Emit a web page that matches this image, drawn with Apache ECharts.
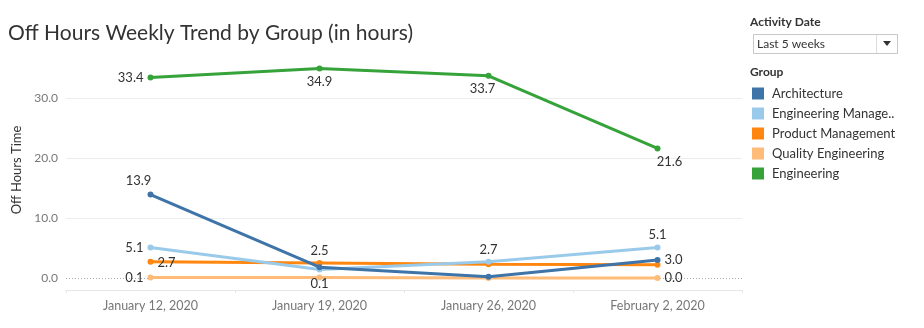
<!DOCTYPE html>
<html>
<head>
<meta charset="utf-8">
<script src="https://cdn.jsdelivr.net/npm/echarts@6/dist/echarts.min.js"></script>
<style>
  html, body { margin: 0; padding: 0; background: #fff; }
  #chart { width: 924px; height: 328px; }
</style>
</head>
<body>
<div id="chart"></div>
<script>
// Weekly off-hours time per group
const weeks = ['January 12, 2020', 'January 19, 2020', 'January 26, 2020', 'February 2, 2020'];
const groups = ['Architecture', 'Engineering Management', 'Product Management', 'Quality Engineering', 'Engineering'];
const architecture = [13.9, 1.8, 0.2, 3.0];
const engineeringManagement = [5.1, 1.4, 2.7, 5.1];
const productManagement = [2.7, 2.5, 2.3, 2.2];
const qualityEngineering = [0.1, 0.1, 0.0, 0.0];
const engineering = [33.4, 34.9, 33.7, 21.6];
const yTicks = [0, 10, 20, 30];

const values = [architecture, engineeringManagement, productManagement, qualityEngineering, engineering];
const colors = ['#3f74a9', '#9acaea', '#ff870f', '#ffbb78', '#35a33a'];

// Which points carry a value label, where it sits, and a small nudge
const labelPlacement = [
  { 0: ['top', -12, 0], 3: ['right', 0, 0] },
  { 0: ['left', 0, 0], 2: ['top', 0, 2], 3: ['top', 0, 1] },
  { 0: ['right', 0, 1], 1: ['top', 0, 1] },
  { 0: ['left', 0, 0], 1: ['bottom', 0, -7], 3: ['right', 0, 0] },
  { 0: ['left', 0, 0], 1: ['bottom', 0, 0], 2: ['bottom', -6, 0], 3: ['bottom', 12, 0] }
];

const chart = echarts.init(document.getElementById('chart'), null, { renderer: 'canvas' });
const font = 'Lato, "Open Sans", sans-serif';

const series = groups.map((name, gi) => ({
  name: name,
  type: 'line',
  data: values[gi].map((v, i) => {
    const pos = labelPlacement[gi][i];
    const item = { value: v };
    if (pos) {
      item.label = { show: true, position: pos[0], distance: 4, offset: [pos[1], pos[2]] };
    }
    return item;
  }),
  z: 10 - gi,
  symbol: 'circle',
  symbolSize: 6,
  lineStyle: { width: 3, color: colors[gi] },
  itemStyle: { color: colors[gi] },
  label: {
    show: false,
    color: '#333',
    fontSize: 13,
    fontFamily: font,
    formatter: p => p.value.toFixed(1)
  },
  emphasis: { disabled: true },
  animation: false
}));

// dotted zero reference line
series.push({
  type: 'line',
  data: [],
  markLine: {
    silent: true,
    symbol: 'none',
    label: { show: false },
    lineStyle: { color: '#aaa', type: [1, 2], width: 1 },
    data: [{ yAxis: 0 }]
  },
  z: 1
});

chart.setOption({
  animation: false,
  color: colors,
  textStyle: { fontFamily: font },
  grid: { left: 66, right: 182, top: 50, bottom: 38 },
  graphic: [
    { type: 'text', left: 8, top: 23, style: { text: 'Off Hours Weekly Trend by Group (in hours)', fill: '#333', font: '21px ' + font } },
    { type: 'text', left: 750, top: 16, style: { text: 'Activity Date', fill: '#333', font: 'bold 12px ' + font } },
    { type: 'rect', shape: { x: 753.5, y: 34.5, width: 144, height: 19 }, style: { fill: '#fff', stroke: '#c8c8c8', lineWidth: 1 } },
    { type: 'line', shape: { x1: 876.5, y1: 35, x2: 876.5, y2: 53 }, style: { stroke: '#dcdcdc', lineWidth: 1 } },
    { type: 'text', left: 757, top: 38, style: { text: 'Last 5 weeks', fill: '#333', font: '12px ' + font } },
    { type: 'polygon', shape: { points: [[883, 41], [891, 41], [887, 46]] }, style: { fill: '#333' } },
    { type: 'text', left: 750, top: 66, style: { text: 'Group', fill: '#333', font: 'bold 12px ' + font } }
  ],
  legend: {
    orient: 'vertical',
    left: 747,
    top: 82,
    itemWidth: 12,
    itemHeight: 12,
    itemGap: 7,
    icon: 'rect',
    data: groups,
    selectedMode: false,
    formatter: n => n.length > 20 ? n.slice(0, 18) + '..' : n,
    textStyle: { color: '#333', fontSize: 13, fontFamily: font, padding: [0, 0, 0, 3] }
  },
  xAxis: {
    type: 'category',
    data: weeks,
    boundaryGap: true,
    axisLine: { show: true, onZero: false, lineStyle: { color: '#e6e6e6' } },
    axisTick: { show: true, length: 3, lineStyle: { color: '#e6e6e6' } },
    axisLabel: { color: '#777', fontSize: 12.5, fontFamily: font, margin: 9 }
  },
  yAxis: {
    type: 'value',
    min: -2,
    max: 38,
    interval: 2,
    name: 'Off Hours Time',
    nameLocation: 'middle',
    nameGap: 41,
    nameTextStyle: { color: '#333', fontSize: 13, fontFamily: font },
    axisLine: { show: false },
    axisTick: { show: false },
    axisLabel: {
      color: '#777', fontSize: 12, fontFamily: font, margin: 8,
      formatter: v => yTicks.includes(v) ? v.toFixed(1) : ''
    },
    splitLine: {
      show: true,
      lineStyle: {
        color: ['transparent'].concat([...Array(19)].map((_, i) => {
          const v = -2 + (i + 1) * 2;
          return (v === 10 || v === 20 || v === 30) ? '#ececec' : 'transparent';
        }))
      }
    }
  },
  series: series
});
</script>
</body>
</html>
